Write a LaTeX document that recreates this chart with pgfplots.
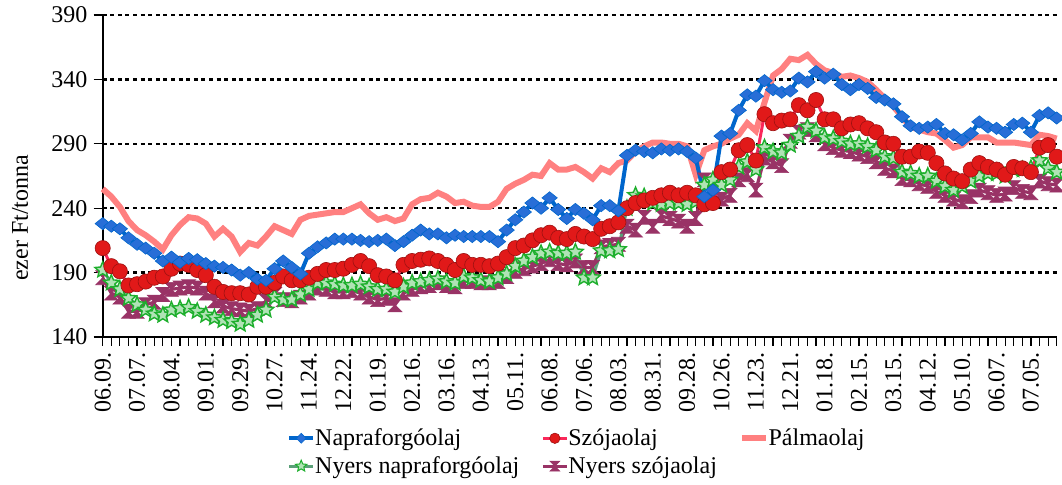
\documentclass[border=0pt]{standalone}
\usepackage{fontspec}
\setmainfont{Liberation Serif}
\usepackage{pgfplots}
\usepackage{pgfplotstable}
\pgfplotsset{compat=1.18}

\definecolor{napra}{RGB}{0,102,204}
\definecolor{napramark}{RGB}{40,110,215}
\definecolor{szoja}{RGB}{250,40,90}
\definecolor{szojamark}{RGB}{225,25,25}
\definecolor{palma}{RGB}{255,128,128}
\definecolor{nyersn}{RGB}{90,160,120}
\definecolor{nyersnmark}{RGB}{30,175,45}
\definecolor{nyerss}{RGB}{153,51,102}

% filled five point star
\pgfdeclareplotmark{gstar}{%
  \pgfpathmoveto{\pgfpointpolar{90}{\pgfplotmarksize}}%
  \pgfpathlineto{\pgfpointpolar{126}{0.45\pgfplotmarksize}}%
  \pgfpathlineto{\pgfpointpolar{162}{\pgfplotmarksize}}%
  \pgfpathlineto{\pgfpointpolar{198}{0.45\pgfplotmarksize}}%
  \pgfpathlineto{\pgfpointpolar{234}{\pgfplotmarksize}}%
  \pgfpathlineto{\pgfpointpolar{270}{0.45\pgfplotmarksize}}%
  \pgfpathlineto{\pgfpointpolar{306}{\pgfplotmarksize}}%
  \pgfpathlineto{\pgfpointpolar{342}{0.45\pgfplotmarksize}}%
  \pgfpathlineto{\pgfpointpolar{18}{\pgfplotmarksize}}%
  \pgfpathlineto{\pgfpointpolar{54}{0.45\pgfplotmarksize}}%
  \pgfpathclose\pgfusepathqfillstroke}
% hourglass
\pgfdeclareplotmark{hglass}{%
  \pgfpathmoveto{\pgfqpoint{-\pgfplotmarksize}{\pgfplotmarksize}}%
  \pgfpathlineto{\pgfqpoint{\pgfplotmarksize}{\pgfplotmarksize}}%
  \pgfpathlineto{\pgfqpoint{-\pgfplotmarksize}{-\pgfplotmarksize}}%
  \pgfpathlineto{\pgfqpoint{\pgfplotmarksize}{-\pgfplotmarksize}}%
  \pgfpathclose\pgfusepathqfillstroke}

% i = week index, B napraforgo, R szoja, P palma, G nyers napraforgo, S nyers szoja
\pgfplotstableread{
i B R P G S
0 228 209 255 192 186
1 226 195 249 182 174
2 224 191 241 177 171
3 217 180 230 170 160
4 212 181 223 165 160
5 209 183 219 161 165
6 205 186 214 158 167
7 199 187 208 157 173
8 202 193 219 161 177
9 198 197 227 162 178
10 201 196 233 163 179
11 200 192 232 160 178
12 197 188 228 157 174
13 195 179 218 155 168
14 194 175 224 153 164
15 192 174 218 152 162
16 188 174 206 150 161
17 190 173 213 153 160
18 185 179 211 157 162
19 184 179 218 161 168
20 193 182 226 171 173
21 199 187 223 169 169
22 194 184 220 169 168
23 189 184 231 173 171
24 205 186 234 177 174
25 210 189 235 182 178
26 213 192 236 182 177
27 216 192 237 181 175
28 216 193 237 180 175
29 216 196 240 180 176
30 215 199 243 181 174
31 214 195 236 179 171
32 215 188 231 177 169
33 216 187 233 177 170
34 211 184 230 175 165
35 214 196 232 179 174
36 219 199 243 182 177
37 223 200 247 183 179
38 220 201 248 184 180
39 220 199 252 185 182
40 217 196 249 183 180
41 219 192 244 182 179
42 218 199 245 187 183
43 218 196 242 186 183
44 218 196 241 184 182
45 218 195 241 183 182
46 214 197 245 186 183
47 223 202 255 189 187
48 231 209 259 195 191
49 237 211 262 199 193
50 244 215 266 202 195
51 240 219 265 205 197
52 248 221 275 206 200
53 239 217 270 205 197
54 232 216 270 205 196
55 239 220 272 206 199
56 236 218 268 186 194
57 231 216 263 186 194
58 242 224 271 207 210
59 242 226 268 207 211
60 238 229 275 208 212
61 281 240 277 240 226
62 285 244 284 250 223
63 284 246 288 249 233
64 283 248 291 244 226
65 286 250 291 243 234
66 285 252 290 244 232
67 286 250 290 244 230
68 284 252 288 243 226
69 279 250 266 245 232
70 249 243 285 258 262
71 254 244 288 262 250
72 296 268 290 258 247
73 298 270 294 262 250
74 316 285 297 272 262
75 328 289 306 276 266
76 327 277 300 270 254
77 339 313 322 287 279
78 332 306 343 284 276
79 330 308 348 283 273
80 331 309 356 289 292
81 341 320 355 296 299
82 338 316 359 303 301
83 346 324 352 300 297
84 341 309 347 295 290
85 344 309 345 294 287
86 336 302 342 292 285
87 332 305 343 290 284
88 336 306 341 290 282
89 333 302 338 288 280
90 326 299 332 285 276
91 324 291 325 280 271
92 321 290 319 279 269
93 311 280 311 268 263
94 304 280 303 267 262
95 302 284 301 265 259
96 303 283 299 265 257
97 305 275 298 261 253
98 298 267 293 257 250
99 297 263 287 254 247
100 293 261 289 257 245
101 298 270 295 261 249
102 307 275 295 265 254
103 303 272 295 267 252
104 302 270 291 267 250
105 299 266 291 265 251
106 305 272 291 270 256
107 306 271 290 270 253
108 299 268 289 271 252
109 312 287 297 277 261
110 314 289 296 271 259
111 310 280 294 268 258
}\data

\begin{document}
\begin{tikzpicture}
\path[use as bounding box] (0,0) rectangle (531pt,242.5pt);
\begin{axis}[
    at={(51.35pt,74pt)}, anchor=south west,
    scale only axis,
    width=477pt, height=161pt,
    font=\fontsize{12}{14}\selectfont,
    /pgf/number format/assume math mode=true,
    xmin=0, xmax=111,
    ymin=140, ymax=390,
    ytick={140,190,...,390},
    xtick={0,4,...,108},
    minor xtick={0,...,111},
    xticklabels={06.09.,07.07.,08.04.,09.01.,09.29.,10.27.,11.24.,12.22.,01.19.,02.16.,03.16.,04.13.,05.11.,06.08.,07.06.,08.03.,08.31.,09.28.,10.26.,11.23.,12.21.,01.18.,02.15.,03.15.,04.12.,05.10.,06.07.,07.05.},
    x tick label style={rotate=90, anchor=east, inner sep=3pt},
    y tick label style={inner sep=3pt},
    axis lines=left,
    axis line style={-, line width=1.1pt, black},
    tick align=outside,
    major tick length=4.5pt,
    minor tick length=4.5pt,
    tick style={black, line width=0.6pt},
    ymajorgrids,
    grid style={black, line width=1.2pt, dash pattern=on 2pt off 1.8pt},
    ylabel={ezer Ft/tonna},
    ylabel style={at={(axis description cs:-0.0867,0.37)}, anchor=center},
    clip=false,
    legend columns=3,
    legend style={draw=none, fill=none, at={(axis description cs:0.193,-0.27)},
        anchor=north west, font=\fontsize{12}{14}\selectfont,
        /tikz/every even column/.append style={column sep=9pt},
        /tikz/every odd column/.append style={column sep=-2pt},
        inner sep=0pt, row sep=0pt},
    legend cell align=left,
    legend image code/.code={
        \draw[mark repeat=2,mark phase=2] plot coordinates {(0pt,0pt)(6pt,0pt)(12pt,0pt)};},
]
% legend entries in the original order
\addlegendimage{napra, line width=2pt, mark=diamond*, mark size=2.5pt,
    mark options={fill=napramark, draw=napra, line width=0.3pt, xscale=1.3}}
\addlegendentry{Napraforgóolaj}
\addlegendimage{szoja, line width=1.5pt, mark=*, mark size=2.6pt,
    mark options={fill=szojamark, draw=szojamark!70!black, line width=0.3pt}}
\addlegendentry{Szójaolaj}
\addlegendimage{palma, line width=2.8pt}
\addlegendentry{Pálmaolaj}
\addlegendimage{nyersn, line width=1.5pt, mark=gstar, mark size=3pt,
    mark options={fill=nyersnmark!35!white, draw=nyersnmark, line width=0.5pt}}
\addlegendentry{Nyers napraforgóolaj}
\addlegendimage{nyerss, line width=1.5pt, mark=hglass, mark size=2.5pt,
    mark options={fill=nyerss, draw=nyerss, line width=0.3pt}}
\addlegendentry{Nyers szójaolaj}

% drawing order: the lower oils first
\addplot[forget plot, nyerss, line width=1.6pt, mark=hglass, mark size=3.5pt,
    mark options={fill=nyerss, draw=nyerss, line width=0.3pt}]
    table[x=i, y=S] {\data};
\addplot[forget plot, nyersn, line width=1.5pt, mark=gstar, mark size=4.1pt,
    mark options={fill=nyersnmark!35!white, draw=nyersnmark, line width=0.7pt}]
    table[x=i, y=G] {\data};
\addplot[forget plot, palma, line width=3pt] table[x=i, y=P] {\data};
\addplot[forget plot, szoja, line width=1.5pt, mark=*, mark size=3.8pt,
    mark options={fill=szojamark, draw=szojamark!70!black, line width=0.3pt}]
    table[x=i, y=R] {\data};
\addplot[forget plot, napra, line width=2pt, mark=diamond*, mark size=3.4pt,
    mark options={fill=napramark, draw=napra, line width=0.3pt, xscale=1.5, yscale=0.9}]
    table[x=i, y=B] {\data};
\end{axis}
\end{tikzpicture}
\end{document}
